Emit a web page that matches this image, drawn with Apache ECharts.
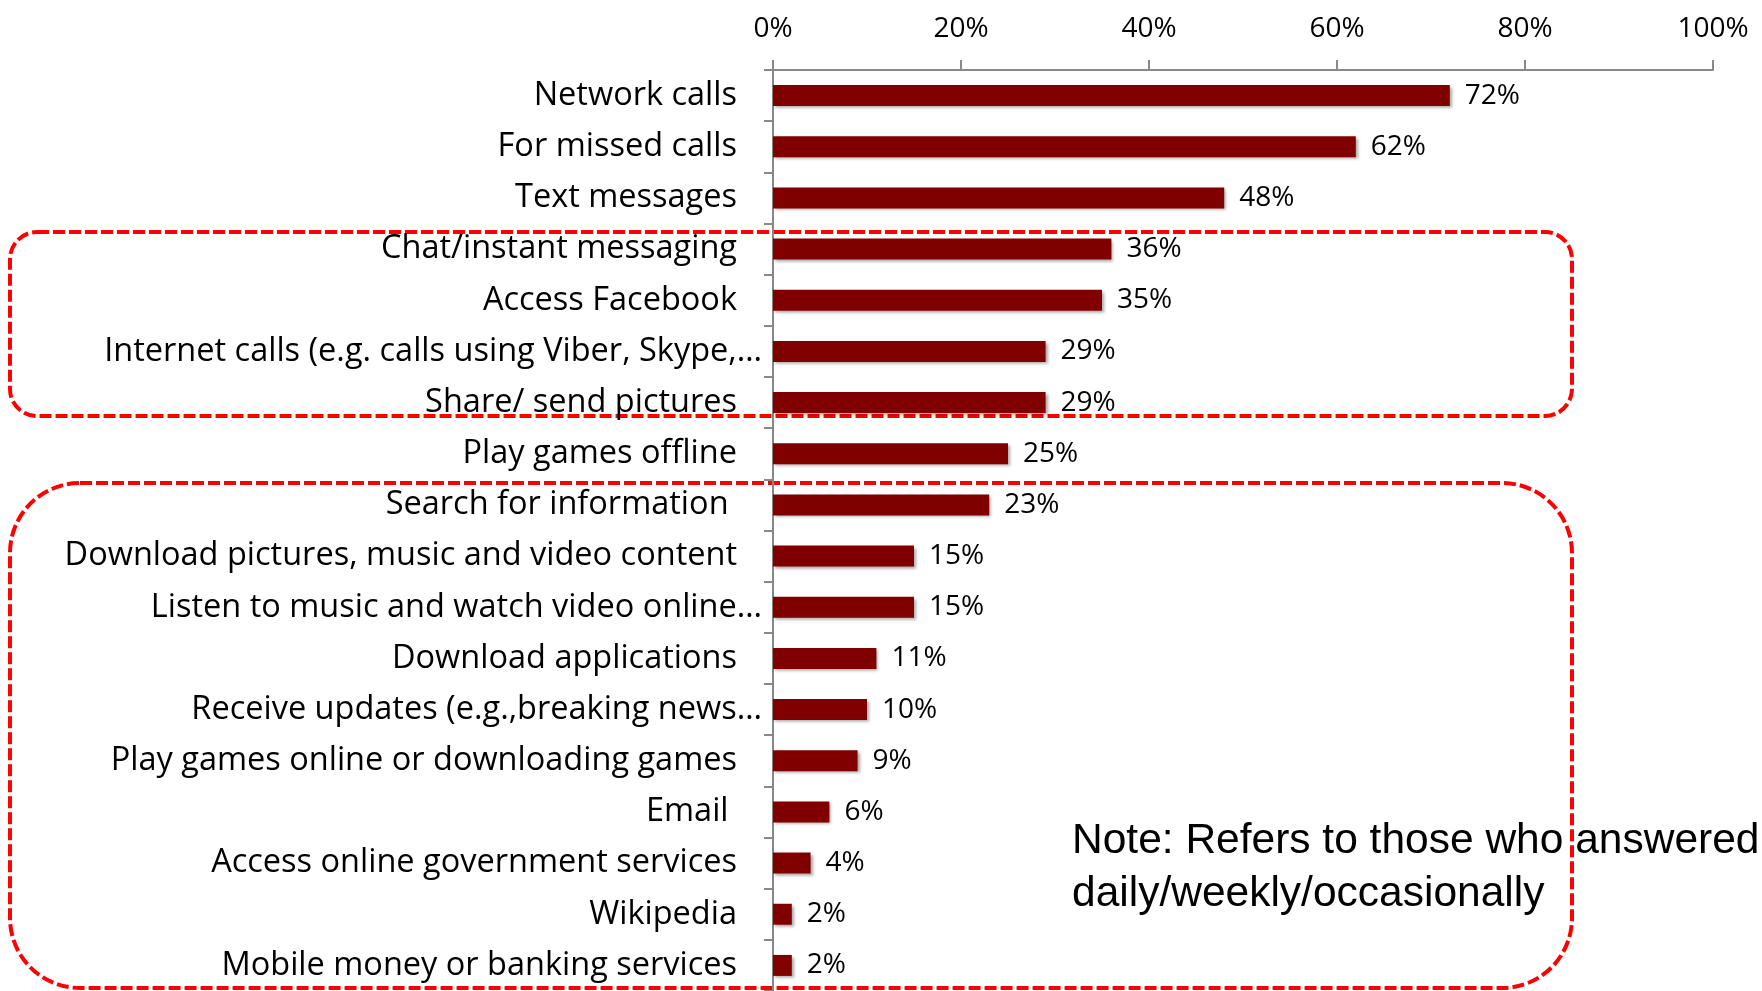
<!DOCTYPE html>
<html>
<head>
<meta charset="utf-8">
<script src="https://cdn.jsdelivr.net/npm/echarts@6/dist/echarts.min.js"></script>
<style>
html,body{margin:0;padding:0;background:#fff;}
#chart{width:1762px;height:991px;}
</style>
</head>
<body>
<div id="chart"></div>
<script>
var categories = [
  "Network calls",
  "For missed calls",
  "Text messages",
  "Chat/instant messaging",
  "Access Facebook",
  "Internet calls (e.g. calls using Viber, Skype,…",
  "Share/ send pictures",
  "Play games offline",
  "Search for information ",
  "Download pictures, music and video content",
  "Listen to music and watch video online…",
  "Download applications",
  "Receive updates (e.g.,breaking news…",
  "Play games online or downloading games",
  "Email ",
  "Access online government services",
  "Wikipedia",
  "Mobile money or banking services"
];
var values = [72, 62, 48, 36, 35, 29, 29, 25, 23, 15, 15, 11, 10, 9, 6, 4, 2, 2];
var xTicks = [0, 20, 40, 60, 80, 100];
var noteLines = ["Note: Refers to those who answered", "daily/weekly/occasionally"];

var chart = echarts.init(document.getElementById('chart'));
var labelFont = 'Open Sans';
var option = {
  backgroundColor: '#ffffff',
  animation: false,
  grid: {left: 773, right: 49, top: 70, bottom: 0, containLabel: false},
  xAxis: {
    type: 'value',
    position: 'top',
    min: 0, max: 100, interval: 20,
    axisLine: {show: true, lineStyle: {color: '#888888', width: 2}},
    axisTick: {show: true, inside: false, length: 10, lineStyle: {color: '#888888', width: 2}},
    splitLine: {show: false},
    axisLabel: {
      margin: 27,
      fontFamily: labelFont, fontSize: 28, color: '#000',
      formatter: function (v) { return v + '%'; },
      customValues: xTicks
    }
  },
  yAxis: {
    type: 'category',
    inverse: true,
    data: categories,
    axisLine: {show: true, lineStyle: {color: '#888888', width: 2}},
    axisTick: {show: true, length: 9, lineStyle: {color: '#888888', width: 2}},
    axisLabel: {
      margin: 11,
      fontFamily: labelFont, fontSize: 32.5, color: '#000',
      formatter: function (v) {
        if (v.charAt(v.length - 1) === '…') return v;
        return '{p|' + v + '}';
      },
      rich: {p: {fontFamily: labelFont, fontSize: 32.5, color: '#000', padding: [0, 25, 0, 0]}}
    }
  },
  series: [{
    type: 'bar',
    data: values,
    barWidth: 21,
    itemStyle: {
      color: '#800000',
      shadowColor: 'rgba(0,0,0,0.35)', shadowBlur: 3, shadowOffsetX: 2, shadowOffsetY: 2
    },
    label: {
      show: true, position: 'right', distance: 15,
      fontFamily: labelFont, fontSize: 28, color: '#000',
      formatter: function (p) { return p.value + '%'; }
    }
  }],
  graphic: [
    {type: 'text', left: 1072, top: 815, style: {text: noteLines.join('\n'), font: '42.5px "Liberation Sans"', fill: '#000', lineHeight: 53}},
    {type: 'rect', shape: {x: 10, y: 232, width: 1562, height: 184, r: 27}, style: {fill: 'none', stroke: '#ff0000', lineWidth: 4, lineDash: [12, 4]}},
    {type: 'rect', shape: {x: 10, y: 483, width: 1562, height: 505, r: 70}, style: {fill: 'none', stroke: '#ff0000', lineWidth: 4, lineDash: [12, 4]}}
  ]
};
chart.setOption(option);
</script>
</body>
</html>
